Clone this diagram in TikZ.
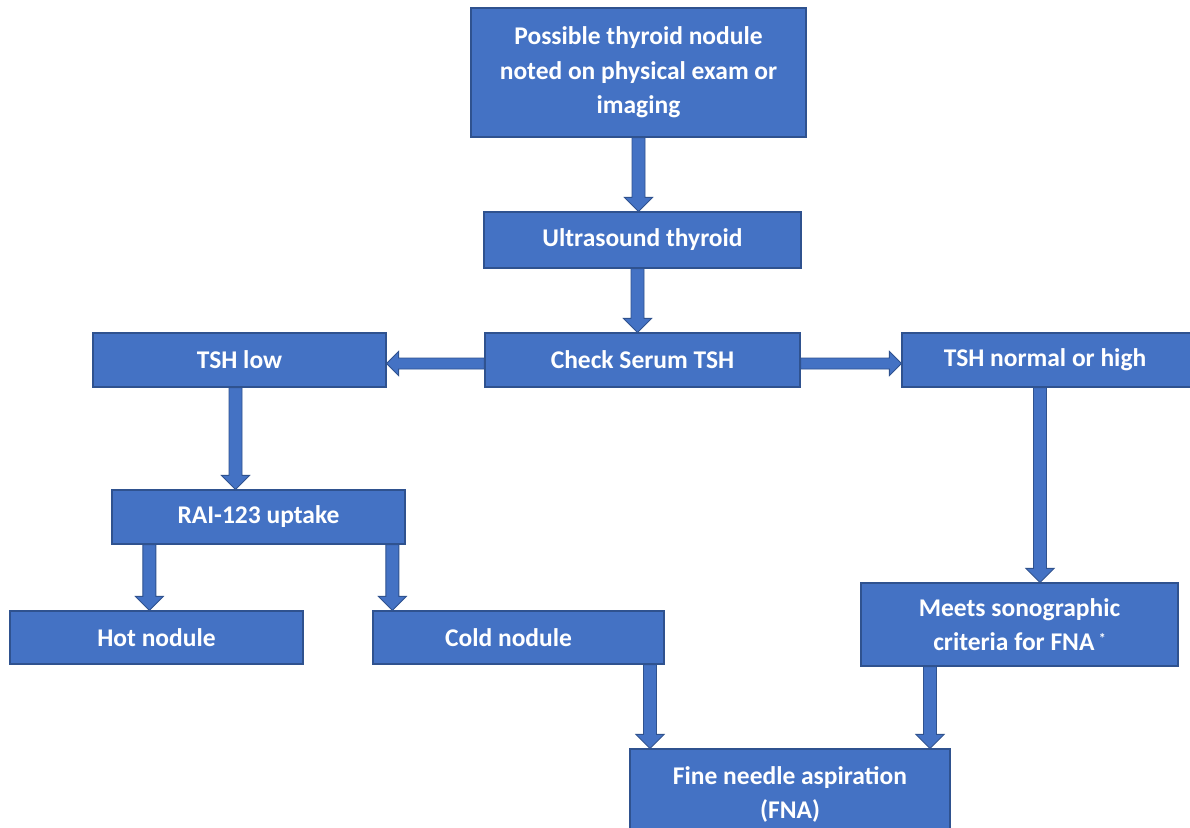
\documentclass[tikz,border=0pt]{standalone}
\usepackage{fontspec}
\setmainfont{Carlito}
\usetikzlibrary{calc}
\definecolor{boxblue}{HTML}{4472C4}
\definecolor{edgeblue}{HTML}{2F528F}
\tikzset{
  box/.style={draw=edgeblue, line width=1.2pt, fill=boxblue, text=white,
    font=\fontsize{25.5}{34.5}\selectfont\bfseries, align=center, inner sep=0pt},
  barrow/.style={draw=edgeblue, line width=0.9pt, fill=boxblue, line join=miter}
}
% vertical block arrow from #1 down to the y of #2
\newcommand\darrow[2]{\path[barrow] let \p1=(#1), \p2=(#2) in
  (\x1-6.5pt,\y1) -- (\x1+6.5pt,\y1) -- (\x1+6.5pt,\y2+14pt) -- (\x1+14pt,\y2+14pt)
  -- (\x1,\y2) -- (\x1-14pt,\y2+14pt) -- (\x1-6.5pt,\y2+14pt) -- cycle;}
% horizontal block arrow from #1 to the x of #2 (leftwards)
\newcommand\larrow[2]{\path[barrow] let \p1=(#1), \p2=(#2) in
  (\x1,\y1+5.5pt) -- (\x2+12pt,\y1+5.5pt) -- (\x2+12pt,\y1+12pt) -- (\x2,\y1)
  -- (\x2+12pt,\y1-12pt) -- (\x2+12pt,\y1-5.5pt) -- (\x1,\y1-5.5pt) -- cycle;}
% rightwards
\newcommand\rarrow[2]{\path[barrow] let \p1=(#1), \p2=(#2) in
  (\x1,\y1+5.5pt) -- (\x2-12pt,\y1+5.5pt) -- (\x2-12pt,\y1+12pt) -- (\x2,\y1)
  -- (\x2-12pt,\y1-12pt) -- (\x2-12pt,\y1-5.5pt) -- (\x1,\y1-5.5pt) -- cycle;}
\begin{document}
\begin{tikzpicture}[x=1pt,y=-1pt]
\useasboundingbox (0,0) rectangle (1190,827);
\clip (0,0) rectangle (1190,827);
\fill[white] (0,0) rectangle (1190,827);

\node[box, minimum width=335pt, minimum height=129pt] (n1) at (638.5,72.5)
  {Possible thyroid nodule\\ noted on physical exam or\\ imaging};
\node[box, minimum width=317pt, minimum height=56pt] (n2) at (642.5,240) {Ultrasound thyroid};
\node[box, minimum width=315pt, minimum height=54pt] (n3) at (642.5,360) {Check Serum TSH};
\node[box, minimum width=293pt, minimum height=54pt] (low) at (239.5,360) {TSH low};
\node[box, minimum width=292pt, minimum height=54pt] (high) at (1048,360) {\hspace*{-6pt}TSH normal or high};
\node[box, minimum width=293pt, minimum height=54pt] (rai) at (258.5,517) {RAI-123 uptake};
\node[box, minimum width=293pt, minimum height=53pt] (hot) at (156.5,637.5) {Hot nodule};
\node[box, minimum width=291pt, minimum height=53pt] (cold) at (518.5,637.5) {Cold nodule\hspace*{20pt}};
\node[box, minimum width=317pt, minimum height=83pt] (meets) at (1019.5,624.5)
  {Meets sonographic\\ criteria for FNA\,\raisebox{0.6ex}{\fontsize{14}{14}\selectfont *}};
\node[box, minimum width=320pt, minimum height=91pt] (fna) at (790,794.5)
  {Fine needle aspiration\\ (FNA)};

\darrow{n1.south}{n2.north}
\darrow{$(n2.south)+(-5,0)$}{n3.north}
\larrow{$(n3.west)+(0,3.5)$}{low.east}
\rarrow{$(n3.east)+(0,3.5)$}{high.west}
\darrow{$(low.south)+(-4,0)$}{rai.north}
\darrow{$(rai.south west)+(38,0)$}{hot.north}
\darrow{$(rai.south west)+(281,0)$}{cold.north}
\darrow{$(high.south)+(-8,0)$}{meets.north}
\darrow{$(cold.south)+(131.5,0)$}{fna.north}
\darrow{$(meets.south)+(-89.5,0)$}{fna.north}
\end{tikzpicture}
\end{document}
